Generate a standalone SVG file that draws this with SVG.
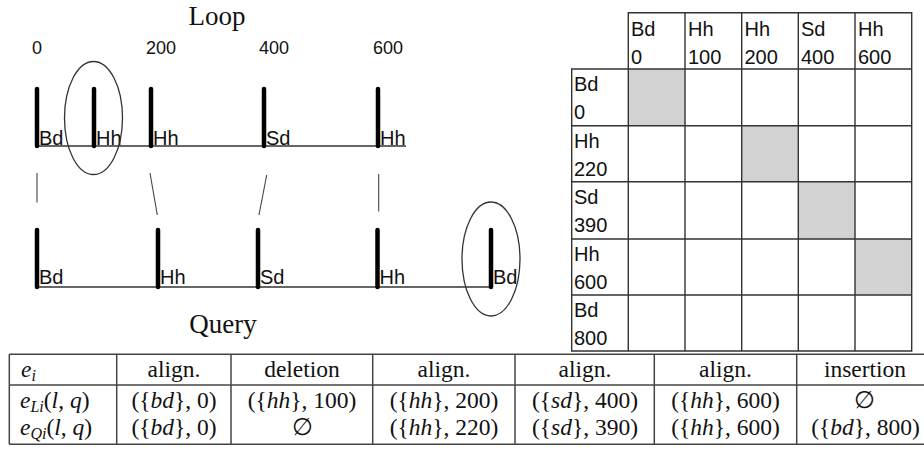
<svg xmlns="http://www.w3.org/2000/svg" width="924" height="450" viewBox="0 0 924 450">
<style>
.title{font-family:"Liberation Serif",serif;font-size:27px;fill:#111;text-anchor:middle}
.num{font-family:"Liberation Sans",Arial,sans-serif;font-size:18px;fill:#111}
.lab{font-family:"Liberation Sans",Arial,sans-serif;font-size:20px;fill:#111}
.bar{stroke:#000;stroke-width:4.5;stroke-linecap:round}
.base{stroke:#333;stroke-width:1.3}
.ell{fill:none;stroke:#333;stroke-width:1.3}
.conn{stroke:#444;stroke-width:1.1}
.grid{stroke:#333;stroke-width:1.4;fill:none}
.gray{fill:#d2d2d2}
.cell{font-family:"Liberation Sans",Arial,sans-serif;font-size:20px;fill:#111}
.tl{stroke:#444;stroke-width:1.5}
.m{font-family:"Liberation Serif",serif;font-size:23.5px;fill:#111;text-anchor:middle}
.ml{font-family:"Liberation Serif",serif;font-size:23.5px;fill:#111}
.i{font-style:italic}
.s{font-size:16px;font-style:italic}
</style>

<g id="loop">
  <text class="title" x="217" y="25">Loop</text>
  <text class="num" x="32" y="54">0</text>
  <text class="num" x="146" y="54">200</text>
  <text class="num" x="259" y="54">400</text>
  <text class="num" x="373" y="54">600</text>
  <line class="base" x1="37" y1="146" x2="406" y2="146"/>
  <g id="loop-bd0"><line class="bar" x1="37" y1="89" x2="37" y2="146"/><text class="lab" x="39" y="144.5">Bd</text></g>
  <g id="loop-hh100"><line class="bar" x1="94" y1="89" x2="94" y2="146"/><text class="lab" x="96" y="144.5">Hh</text></g>
  <g id="loop-hh200"><line class="bar" x1="151" y1="89" x2="151" y2="146"/><text class="lab" x="153" y="144.5">Hh</text></g>
  <g id="loop-sd400"><line class="bar" x1="264" y1="89" x2="264" y2="146"/><text class="lab" x="266" y="144.5">Sd</text></g>
  <g id="loop-hh600"><line class="bar" x1="378" y1="89" x2="378" y2="146"/><text class="lab" x="380" y="144.5">Hh</text></g>
  <ellipse class="ell" cx="93.5" cy="118" rx="29" ry="56.5"/>
</g>

<g id="query">
  <line class="base" x1="37" y1="287" x2="491" y2="287"/>
  <g id="query-bd0"><line class="bar" x1="37" y1="230" x2="37" y2="287"/><text class="lab" x="39" y="284">Bd</text></g>
  <g id="query-hh220"><line class="bar" x1="158" y1="230" x2="158" y2="287"/><text class="lab" x="160" y="284">Hh</text></g>
  <g id="query-sd390"><line class="bar" x1="258" y1="230" x2="258" y2="287"/><text class="lab" x="260" y="284">Sd</text></g>
  <g id="query-hh600"><line class="bar" x1="377.5" y1="230" x2="377.5" y2="287"/><text class="lab" x="379.5" y="284">Hh</text></g>
  <g id="query-bd800"><line class="bar" x1="491" y1="230" x2="491" y2="287"/><text class="lab" x="493" y="284">Bd</text></g>
  <ellipse class="ell" cx="491" cy="259" rx="29" ry="57"/>
  <text class="title" x="223" y="333">Query</text>
</g>

<g id="connectors">
  <line class="conn" x1="37" y1="173" x2="37" y2="202.5"/>
  <line class="conn" x1="150" y1="173" x2="157.3" y2="215"/>
  <line class="conn" x1="266.7" y1="175" x2="259" y2="215"/>
  <line class="conn" x1="378.7" y1="174" x2="378.7" y2="211.5"/>
</g>

<g id="matrix">
  <rect class="gray" x="628.3" y="69" width="56.7" height="56.7"/>
  <rect class="gray" x="741.7" y="125.7" width="56.6" height="56"/>
  <rect class="gray" x="798.3" y="181.7" width="56.7" height="57.3"/>
  <rect class="gray" x="855" y="239" width="56.7" height="56"/>
  <path class="grid" d="M628.3 12.7H911.7V351H571.7V69H628.3Z M628.3 12.7V351 M685 12.7V351 M741.7 12.7V351 M798.3 12.7V351 M855 12.7V351 M571.7 69H911.7 M571.7 125.7H911.7 M571.7 181.7H911.7 M571.7 239H911.7 M571.7 295H911.7"/>
  <g class="cell">
    <text x="631" y="36">Bd</text><text x="631" y="64">0</text>
    <text x="688" y="36">Hh</text><text x="688" y="64">100</text>
    <text x="744.5" y="36">Hh</text><text x="744.5" y="64">200</text>
    <text x="801" y="36">Sd</text><text x="801" y="64">400</text>
    <text x="858" y="36">Hh</text><text x="858" y="64">600</text>
    <text x="574" y="91">Bd</text><text x="574" y="119">0</text>
    <text x="574" y="148">Hh</text><text x="574" y="176">220</text>
    <text x="574" y="203.5">Sd</text><text x="574" y="231.5">390</text>
    <text x="574" y="261">Hh</text><text x="574" y="289">600</text>
    <text x="574" y="317">Bd</text><text x="574" y="345">800</text>
  </g>
</g>

<g id="events-table">
  <line class="tl" x1="9.3" y1="354.3" x2="924" y2="354.3"/>
  <line class="tl" x1="9.3" y1="385" x2="924" y2="385"/>
  <line class="tl" x1="9.3" y1="444.3" x2="924" y2="444.3"/>
  <line class="tl" x1="9.3" y1="354.3" x2="9.3" y2="444.3"/>
  <line class="tl" x1="116.7" y1="354.3" x2="116.7" y2="444.3"/>
  <line class="tl" x1="231" y1="354.3" x2="231" y2="444.3"/>
  <line class="tl" x1="372.7" y1="354.3" x2="372.7" y2="444.3"/>
  <line class="tl" x1="515" y1="354.3" x2="515" y2="444.3"/>
  <line class="tl" x1="654.3" y1="354.3" x2="654.3" y2="444.3"/>
  <line class="tl" x1="796.7" y1="354.3" x2="796.7" y2="444.3"/>

  <text class="ml" x="21" y="377"><tspan class="i">e</tspan><tspan class="s" dy="4">i</tspan></text>
  <text class="ml" x="20" y="408"><tspan class="i">e</tspan><tspan class="s" dy="4">Li</tspan><tspan dy="-4">(</tspan><tspan class="i">l</tspan>, <tspan class="i">q</tspan>)</text>
  <text class="ml" x="20" y="435"><tspan class="i">e</tspan><tspan class="s" dy="4">Qi</tspan><tspan dy="-4">(</tspan><tspan class="i">l</tspan>, <tspan class="i">q</tspan>)</text>

  <text class="m" x="174" y="377">align.</text>
  <text class="m" x="302" y="377">deletion</text>
  <text class="m" x="444" y="377">align.</text>
  <text class="m" x="585" y="377">align.</text>
  <text class="m" x="725.5" y="377">align.</text>
  <text class="m" x="865" y="377">insertion</text>

  <text class="m" x="174" y="408">({<tspan class="i">bd</tspan>}, 0)</text>
  <text class="m" x="302" y="408">({<tspan class="i">hh</tspan>}, 100)</text>
  <text class="m" x="444" y="408">({<tspan class="i">hh</tspan>}, 200)</text>
  <text class="m" x="585" y="408">({<tspan class="i">sd</tspan>}, 400)</text>
  <text class="m" x="725.5" y="408">({<tspan class="i">hh</tspan>}, 600)</text>
  <text class="m" x="864" y="408">∅</text>

  <text class="m" x="174" y="435">({<tspan class="i">bd</tspan>}, 0)</text>
  <text class="m" x="302" y="435">∅</text>
  <text class="m" x="444" y="435">({<tspan class="i">hh</tspan>}, 220)</text>
  <text class="m" x="585" y="435">({<tspan class="i">sd</tspan>}, 390)</text>
  <text class="m" x="725.5" y="435">({<tspan class="i">hh</tspan>}, 600)</text>
  <text class="m" x="865.5" y="435">({<tspan class="i">bd</tspan>}, 800)</text>
</g>
</svg>
